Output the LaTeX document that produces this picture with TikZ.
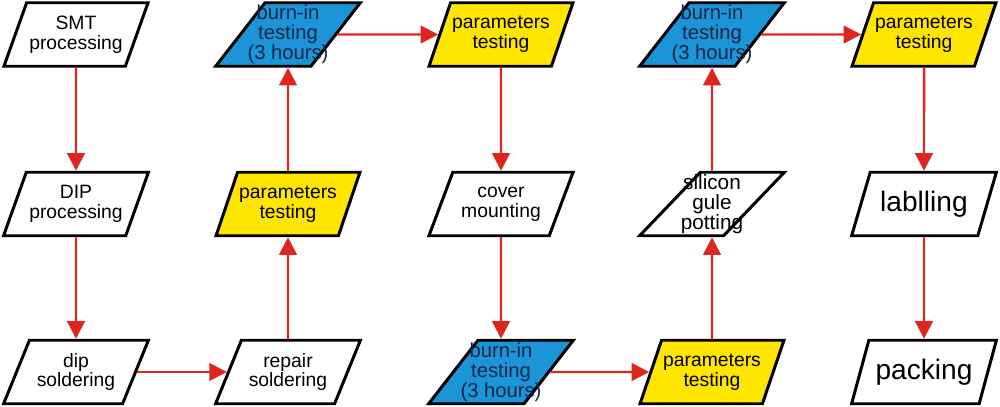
\documentclass[tikz,border=0pt]{standalone}
\usepackage{fontspec}
\setmainfont{Liberation Sans}
\usetikzlibrary{shapes.geometric,arrows.meta}
\definecolor{burnblue}{RGB}{27,148,216}
\definecolor{paramyellow}{RGB}{255,230,0}
\definecolor{flowred}{RGB}{222,38,30}
\definecolor{navytext}{RGB}{18,38,70}
\begin{document}
\begin{tikzpicture}[
	stepbox/.style={trapezium,trapezium left angle=60,trapezium right angle=120,
		trapezium stretches=true,minimum width=2.9cm,minimum height=1.27cm,
		draw=black,line width=1.7pt,fill=white,align=center,inner sep=0pt,
		font=\fontsize{11}{11.2}\selectfont},
	threebox/.style={stepbox,inner xsep=-14pt,font=\fontsize{11.8}{11.4}\selectfont},
	burnbox/.style={threebox,fill=burnblue,text=navytext,
		font=\fontsize{11.5}{11.4}\selectfont},
	parambox/.style={stepbox,fill=paramyellow},
	bigbox/.style={stepbox,font=\fontsize{16}{17}\selectfont},
	flow/.style={flowred,line width=1.4pt,-{Triangle[length=10pt,width=10pt]}}
	]
	\useasboundingbox (0,0) rectangle (20,-8.14);
	% column 1
	\node[stepbox] (smt) at (1.52,-0.69) {SMT\\processing};
	\node[stepbox] (dip) at (1.52,-4.08) {DIP\\processing};
	\node[stepbox] (dipsold) at (1.52,-7.44) {dip\\soldering};
	% column 2
	\node[stepbox] (repair) at (5.76,-7.44) {repair\\soldering};
	\node[parambox] (param1) at (5.76,-4.08) {parameters\\testing};
	\node[burnbox] (burn1) at (5.76,-0.69) {burn-in\\testing\\(3 hours)};
	% column 3
	\node[parambox] (param2) at (10.02,-0.69) {parameters\\testing};
	\node[stepbox] (cover) at (10.02,-4.08) {cover\\mounting};
	\node[burnbox] (burn2) at (10.02,-7.44) {burn-in\\testing\\(3 hours)};
	% column 4
	\node[parambox] (param3) at (14.24,-7.44) {parameters\\testing};
	\node[threebox] (potting) at (14.24,-4.08) {silicon\\gule\\potting};
	\node[burnbox] (burn3) at (14.24,-0.69) {burn-in\\testing\\(3 hours)};
	% column 5
	\node[parambox] (param4) at (18.48,-0.69) {parameters\\testing};
	\node[bigbox] (label) at (18.48,-4.08) {lablling};
	\node[bigbox] (pack) at (18.48,-7.44) {packing};
	% arrows
	\draw[flow] (smt) -- (dip);
	\draw[flow] (dip) -- (dipsold);
	\draw[flow] (dipsold.east) -- (repair.west);
	\draw[flow] (repair) -- (param1);
	\draw[flow] (param1) -- (burn1);
	\draw[flow] (burn1.east) -- (param2.west);
	\draw[flow] (param2) -- (cover);
	\draw[flow] (cover) -- (burn2);
	\draw[flow] (burn2.east) -- (param3.west);
	\draw[flow] (param3) -- (potting);
	\draw[flow] (potting) -- (burn3);
	\draw[flow] (burn3.east) -- (param4.west);
	\draw[flow] (param4) -- (label);
	\draw[flow] (label) -- (pack);
\end{tikzpicture}
\end{document}
